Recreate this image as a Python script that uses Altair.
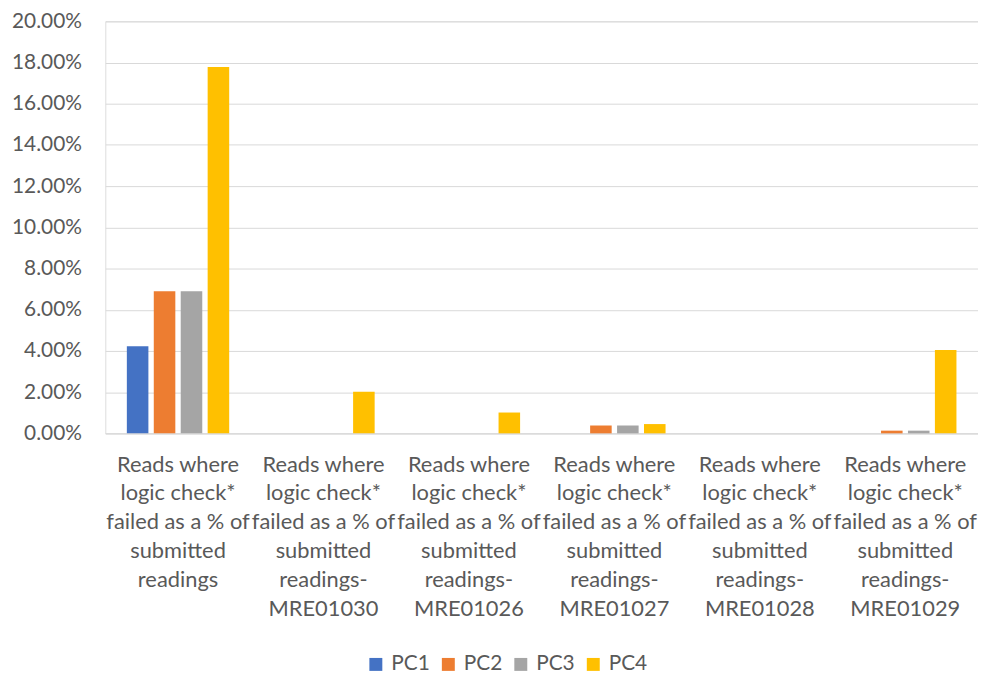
import altair as alt
import pandas as pd

categories = [
    "Reads where|logic check*|failed as a % of|submitted|readings",
    "Reads where|logic check*|failed as a % of|submitted|readings-|MRE01030",
    "Reads where|logic check*|failed as a % of|submitted|readings-|MRE01026",
    "Reads where|logic check*|failed as a % of|submitted|readings-|MRE01027",
    "Reads where|logic check*|failed as a % of|submitted|readings-|MRE01028",
    "Reads where|logic check*|failed as a % of|submitted|readings-|MRE01029",
]
series = ["PC1", "PC2", "PC3", "PC4"]
pc1 = [0.0423, 0.0, 0.0, 0.0, 0.0, 0.0]
pc2 = [0.0690, 0.0, 0.0, 0.0038, 0.0, 0.0013]
pc3 = [0.0690, 0.0, 0.0, 0.0038, 0.0, 0.0013]
pc4 = [0.1778, 0.0202, 0.0101, 0.0045, 0.0, 0.0404]
colors = ["#4472C4", "#ED7D31", "#A5A5A5", "#FFC000"]
y_ticks = [0.0, 0.02, 0.04, 0.06, 0.08, 0.10, 0.12, 0.14, 0.16, 0.18, 0.20]

rows = []
for s, vals in zip(series, [pc1, pc2, pc3, pc4]):
    for c, v in zip(categories, vals):
        rows.append({"category": c, "series": s, "value": v})
df = pd.DataFrame(rows)

FONT = "Lato"
TXT = "#595959"

chart = (
    alt.Chart(df)
    .mark_bar()
    .encode(
        x=alt.X(
            "category:N",
            sort=categories,
            title=None,
            scale=alt.Scale(paddingInner=0, paddingOuter=0),
            axis=alt.Axis(
                labelExpr="split(datum.label, '|')",
                labelAngle=0,
                labelFont=FONT,
                labelFontSize=22,
                labelColor=TXT,
                labelLineHeight=29,
                labelPadding=21,
                labelBaseline="top",
                ticks=False,
                domainColor="#D9D9D9",
                domainWidth=1,
                labelLimit=400,
            ),
        ),
        xOffset=alt.XOffset(
            "series:N",
            sort=series,
            scale=alt.Scale(paddingInner=0.2, paddingOuter=0.8),
        ),
        y=alt.Y(
            "value:Q",
            title=None,
            scale=alt.Scale(domain=[0, 0.2], nice=False),
            axis=alt.Axis(
                values=y_ticks,
                format=".2%",
                labelFont=FONT,
                labelFontSize=21,
                labelColor=TXT,
                labelPadding=24,
                ticks=False,
                domain=False,
                gridColor="#D9D9D9",
                gridWidth=1,
            ),
        ),
        color=alt.Color(
            "series:N",
            sort=series,
            scale=alt.Scale(domain=series, range=colors),
            legend=alt.Legend(
                title=None,
                orient="none",
                legendX=262,
                legendY=637,
                direction="horizontal",
                columns=4,
                symbolType="square",
                symbolSize=170,
                symbolStrokeWidth=0,
                labelFont=FONT,
                labelFontSize=21,
                labelColor=TXT,
                columnPadding=8,
                labelOffset=5,
            ),
        ),
    )
    .properties(
        width=879,
        height=415,
        autosize=alt.AutoSizeParams(type="none"),
        padding={"left": 98, "top": 11, "right": 0, "bottom": 240},
    )
    .configure_view(stroke=None)
    .configure(background="white")
)

chart.save("out.html", embed_options={"renderer": "svg", "actions": False})
